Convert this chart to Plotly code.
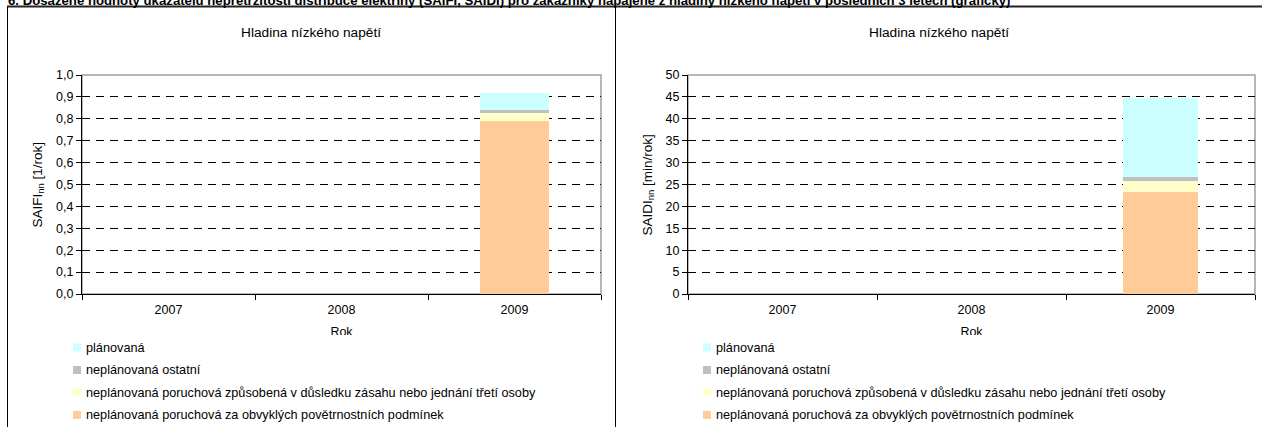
import plotly.graph_objects as go

# --- data -------------------------------------------------------------
years = ["2007", "2008", "2009"]

series_names = [
    "neplánovaná poruchová za obvyklých povětrnostních podmínek",
    "neplánovaná poruchová způsobená v důsledku zásahu nebo jednání třetí osoby",
    "neplánovaná ostatní",
    "plánovaná",
]
series_colors = ["#FFCC99", "#FFFFCC", "#C0C0C0", "#CCFFFF"]

saifi_weather = [None, None, 0.79]
saifi_third_party = [None, None, 0.035]
saifi_other = [None, None, 0.015]
saifi_planned = [None, None, 0.08]

saidi_weather = [None, None, 23.4]
saidi_third_party = [None, None, 2.3]
saidi_other = [None, None, 0.9]
saidi_planned = [None, None, 18.1]

saifi_ticks = [0.0, 0.1, 0.2, 0.3, 0.4, 0.5, 0.6, 0.7, 0.8, 0.9, 1.0]
saidi_ticks = [0, 5, 10, 15, 20, 25, 30, 35, 40, 45, 50]

page_title = ("6. Dosažené hodnoty ukazatelů nepřetržitosti distribuce elektřiny "
              "(SAIFI, SAIDI) pro zákazníky napájené z hladiny nízkého napětí "
              "v posledních 3 letech (grafický)")
panel_title = "Hladina nízkého napětí"
x_title = "Rok"
saifi_title = "SAIFI<sub>nn</sub> [1/rok]"
saidi_title = "SAIDI<sub>nn</sub> [min/rok]"

# --- geometry helpers (pixel -> paper) -------------------------------
W, H = 1262, 427
FONT = "Arial, 'Liberation Sans', sans-serif"
TICK_SIZE = 12.5
LEGEND_SIZE = 12.7


def px(x):
    return x / W


def py(y):
    return 1 - y / H


fig = go.Figure()

saifi_series = [saifi_weather, saifi_third_party, saifi_other, saifi_planned]
saidi_series = [saidi_weather, saidi_third_party, saidi_other, saidi_planned]

for name, color, vals in zip(series_names, series_colors, saifi_series):
    fig.add_trace(go.Bar(x=years, y=vals, name=name, marker_color=color,
                         marker_line_width=0, xaxis="x", yaxis="y",
                         showlegend=False))
for name, color, vals in zip(series_names, series_colors, saidi_series):
    fig.add_trace(go.Bar(x=years, y=vals, name=name, marker_color=color,
                         marker_line_width=0, xaxis="x2", yaxis="y2",
                         showlegend=False))

# x axis titles, partly hidden under the legend band (clipped subplot)
for xa, ya in (("x3", "y3"), ("x4", "y4")):
    fig.add_trace(go.Scatter(x=[0.5], y=[0.1], mode="text", text=[x_title],
                             textposition="middle center",
                             textfont=dict(size=TICK_SIZE, color="#000", family=FONT),
                             xaxis=xa, yaxis=ya, showlegend=False,
                             hoverinfo="skip", cliponaxis=True))

plot_top, plot_bottom = 75, 294
left_plot = (82, 601)
right_plot = (688, 1255)
ydom = [py(plot_bottom), py(plot_top)]

xaxis_common = dict(
    type="category", showline=True, linecolor="#000", linewidth=1,
    ticks="outside", ticklen=5, tickcolor="#000", tickson="boundaries",
    ticklabelstandoff=4, automargin=False,
    showgrid=False, tickfont=dict(size=TICK_SIZE, color="#000", family=FONT),
    fixedrange=True,
)
yaxis_common = dict(
    showline=True, linecolor="#000", linewidth=1, ticks="outside",
    ticklen=5, tickcolor="#000", showgrid=True, gridcolor="#000",
    gridwidth=1, griddash="8px,6px", zeroline=False, automargin=False,
    tickfont=dict(size=TICK_SIZE, color="#000", family=FONT), fixedrange=True,
)
hidden_axis = dict(range=[0, 1], visible=False, fixedrange=True,
                   automargin=False)

rok_top, rok_bottom = 318, 335

fig.update_layout(
    template="none",
    width=W, height=H,
    margin=dict(l=0, r=0, t=0, b=0, pad=0, autoexpand=False),
    paper_bgcolor="#fff", plot_bgcolor="#fff",
    barmode="stack", bargap=0.6,
    separators=", ",
    showlegend=False,
    font=dict(family=FONT, color="#000"),
    xaxis=dict(domain=[px(left_plot[0]), px(left_plot[1])], anchor="y",
               **xaxis_common),
    yaxis=dict(domain=ydom, anchor="x", range=[0, 1], tickvals=saifi_ticks,
               tickformat=".1f", **yaxis_common),
    xaxis2=dict(domain=[px(right_plot[0]), px(right_plot[1])], anchor="y2",
                **xaxis_common),
    yaxis2=dict(domain=ydom, anchor="x2", range=[0, 50], tickvals=saidi_ticks,
                tickformat="d", **yaxis_common),
    xaxis3=dict(domain=[px(left_plot[0]), px(left_plot[1])], anchor="y3",
                **hidden_axis),
    yaxis3=dict(domain=[py(rok_bottom), py(rok_top)], anchor="x3",
                **hidden_axis),
    xaxis4=dict(domain=[px(right_plot[0]), px(right_plot[1])], anchor="y4",
                **hidden_axis),
    yaxis4=dict(domain=[py(rok_bottom), py(rok_top)], anchor="x4",
                **hidden_axis),
)

shapes = []
annotations = []

# gray frame around each plot area (top and right edges)
for xa, ya in (("x", "y"), ("x2", "y2")):
    shapes.append(dict(type="rect", xref=f"{xa} domain", yref=f"{ya} domain",
                       x0=0, x1=1, y0=0, y1=1, layer="below",
                       line=dict(color="#A0A0A0", width=1.5)))

# outer page frame
shapes.append(dict(type="line", xref="paper", yref="paper",
                   x0=px(7), x1=1, y0=py(6.5), y1=py(6.5),
                   line=dict(color="#222", width=2)))
for xline in (7.5, 615.5):
    shapes.append(dict(type="line", xref="paper", yref="paper",
                       x0=px(xline), x1=px(xline), y0=py(7), y1=0,
                       line=dict(color="#000", width=1)))

# page heading (runs off the top edge)
annotations.append(dict(text=f"<b>{page_title}</b>", xref="paper", yref="paper",
                        x=px(7), y=1.0, xanchor="left", yanchor="middle",
                        showarrow=False, borderpad=0,
                        font=dict(size=13.2, color="#000", family=FONT)))

# panel titles
for cx in (311, 939):
    annotations.append(dict(text=panel_title, xref="paper", yref="paper",
                            x=px(cx), y=py(33), xanchor="center",
                            yanchor="middle", showarrow=False,
                            font=dict(size=13.7, color="#000", family=FONT)))

# y axis titles
for cx, txt in ((38, saifi_title), (648, saidi_title)):
    annotations.append(dict(text=txt, xref="paper", yref="paper",
                            x=px(cx), y=py((plot_top + plot_bottom) / 2),
                            xanchor="center", yanchor="middle", textangle=-90,
                            showarrow=False,
                            font=dict(size=13.5, color="#000", family=FONT)))

# legends: top entry is the last (uppermost) stacked series
legend_rows = [347.5, 370, 392.5, 415]
for swatch_x in (73, 703):
    for row_y, idx in zip(legend_rows, [3, 2, 1, 0]):
        shapes.append(dict(type="rect", xref="paper", yref="paper",
                           x0=px(swatch_x), x1=px(swatch_x + 8),
                           y0=py(row_y + 4), y1=py(row_y - 4),
                           fillcolor=series_colors[idx], line=dict(width=0)))
        annotations.append(dict(text=series_names[idx], xref="paper",
                                yref="paper", x=px(swatch_x + 11),
                                y=py(row_y), xanchor="left", yanchor="middle",
                                showarrow=False,
                                font=dict(size=LEGEND_SIZE, color="#000", family=FONT)))

fig.update_layout(shapes=shapes, annotations=annotations)

fig.write_html("out.html", config={"displayModeBar": False, "staticPlot": True})
